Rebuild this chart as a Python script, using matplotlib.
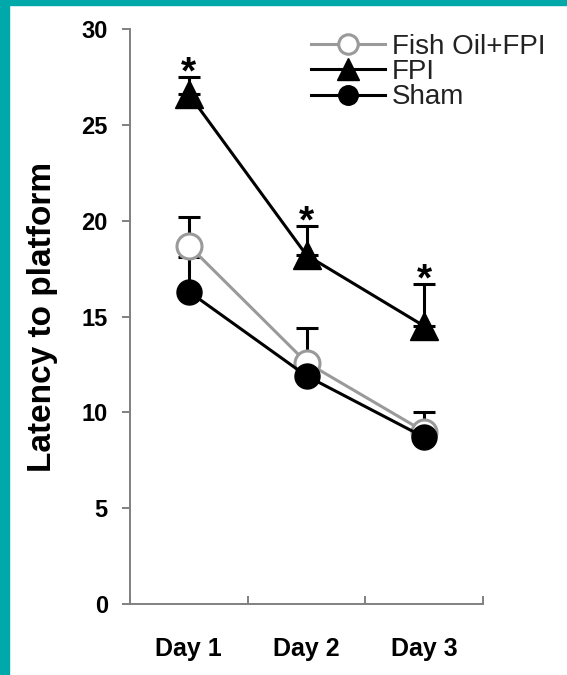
import matplotlib
matplotlib.use("Agg")
import matplotlib.pyplot as plt
from matplotlib.patches import Rectangle
import numpy as np

plt.rcParams['font.family'] = ['Liberation Sans', 'DejaVu Sans']

# -------------------------
# DADOS
# -------------------------
dias = ["Day 1", "Day 2", "Day 3"]

fish_oil = [18.7, 12.6, 9.0]
fish_oil_err = [1.5, 1.8, 1.0]

fpi = [26.6, 18.2, 14.5]
fpi_err = [0.9, 1.5, 2.2]

sham = [16.3, 11.9, 8.7]
sham_err = [1.8, 0.6, 0.5]

signif = [True, True, True]  # asteriscos sobre FPI

x = np.arange(1, len(dias) + 1)

# -------------------------
# FIGURA
# -------------------------
fig = plt.figure(figsize=(5.67, 6.75), dpi=100)
ax = fig.add_axes([130 / 567, 1 - 604 / 675, 353 / 567, 575 / 675])

# moldura azul-petróleo (esquerda e topo)
teal = "#00a9a9"
fig.patches.append(Rectangle((0, 0), 9 / 567, 1, transform=fig.transFigure, color=teal, zorder=0))
fig.patches.append(Rectangle((0, 1 - 5 / 675), 1, 5 / 675, transform=fig.transFigure, color=teal, zorder=0))

lw = 2.2
cap = 8
ms_c = 18
ms_t = 20
cinza = "#9a9a9a"

zeros = np.zeros(len(x))

# barras de erro (só a parte de cima)
ax.errorbar(x, sham, yerr=[zeros, sham_err], fmt="none", ecolor="black",
            elinewidth=lw, capsize=cap, capthick=lw, zorder=1)
ax.errorbar(x, fish_oil, yerr=[zeros, fish_oil_err], fmt="none", ecolor="black",
            elinewidth=lw, capsize=cap, capthick=lw, zorder=1)
ax.errorbar(x, fpi, yerr=[zeros, fpi_err], fmt="none", ecolor="black",
            elinewidth=lw, capsize=cap, capthick=lw, zorder=1)

ax.plot(x, fish_oil, color=cinza, lw=lw, marker="o", ms=ms_c,
        mfc="white", mec=cinza, mew=2.2, label="Fish Oil+FPI", zorder=2)
ax.plot(x, fpi, color="black", lw=lw, marker="^", ms=ms_t,
        mfc="black", mec="black", label="FPI", zorder=3)
ax.plot(x, sham, color="black", lw=lw, marker="o", ms=ms_c,
        mfc="black", mec="black", label="Sham", zorder=3)

for xi, m, e, s in zip(x, fpi, fpi_err, signif):
    if s:
        ax.text(xi, m + e + 0.2, "*", ha="center", va="center",
                fontsize=28, fontweight="bold")

# -------------------------
# EIXOS
# -------------------------
ax.set_xlim(0.5, 3.5)
ax.set_ylim(0, 30)
ax.set_yticks(range(0, 31, 5))
ax.set_xticks(x)
ax.set_xticklabels(dias)
ax.set_xticks([0.5, 1.5, 2.5, 3.5], minor=True)

for lado in ["top", "right"]:
    ax.spines[lado].set_visible(False)
for lado in ["left", "bottom"]:
    ax.spines[lado].set_color("#808080")
    ax.spines[lado].set_linewidth(1.4)

ax.tick_params(axis="y", direction="out", length=6, width=1.4, color="#808080",
               pad=10, labelsize=17)
ax.tick_params(axis="x", which="major", length=0, pad=24, labelsize=18)
ax.tick_params(axis="x", which="minor", direction="in", length=6, width=1.4,
               color="#808080")
for t in ax.get_xticklabels() + ax.get_yticklabels():
    t.set_fontweight("bold")

ax.set_ylabel("Latency to platform", fontsize=24, fontweight="bold")
ax.yaxis.set_label_coords(-0.205, 0.5)

leg = ax.legend(loc="upper left", bbox_to_anchor=(311 / 567, 1 - 34 / 675),
                bbox_transform=fig.transFigure, frameon=False, fontsize=20,
                handlelength=2.65, handletextpad=0.25, labelspacing=-0.03,
                borderpad=0, borderaxespad=0, markerscale=0.78)
for t in leg.get_texts():
    t.set_color("#222222")

fig.savefig("out.png", dpi=100)
